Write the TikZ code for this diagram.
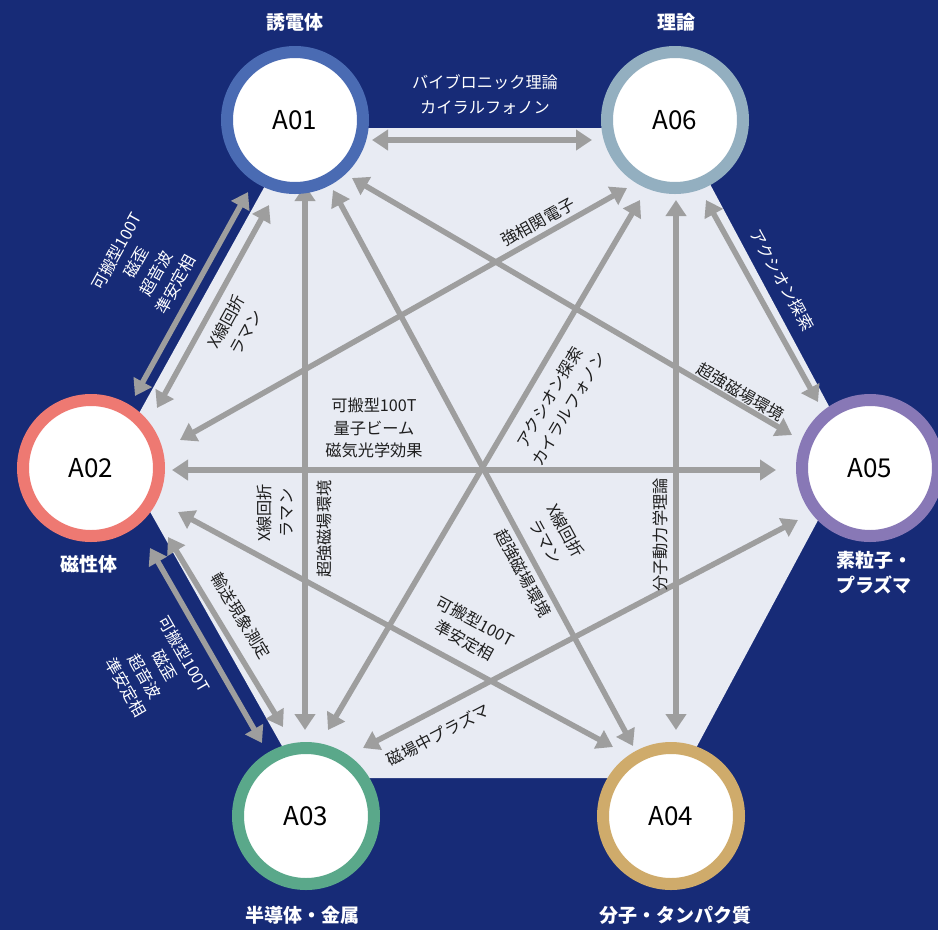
\documentclass[tikz,border=0pt]{standalone}
\usepackage{fontspec}
\setmainfont{Noto Sans CJK JP}
\usetikzlibrary{arrows.meta}
\definecolor{navy}{HTML}{172B77}
\definecolor{hexfill}{HTML}{E8EBF3}
\definecolor{agray}{HTML}{9E9E9E}
\definecolor{cAa}{HTML}{4A6BB3}
\definecolor{cAf}{HTML}{93AFC0}
\definecolor{cAb}{HTML}{EE7972}
\definecolor{cAe}{HTML}{8878B6}
\definecolor{cAc}{HTML}{5AA88A}
\definecolor{cAd}{HTML}{CFAB6B}
\definecolor{ink}{HTML}{1E1E1E}
\begin{document}
\begin{tikzpicture}[x=1pt,y=-1pt,
  conn/.style={draw=agray, line width=5.5pt, {Triangle[length=16pt,width=20pt]}-{Triangle[length=16pt,width=20pt]}},
  lab/.style={text=ink, font=\fontsize{16.2}{22.5}\selectfont, align=center, inner sep=0pt},
  wlab/.style={lab, text=white},
  grp/.style={circle, fill=white, line width=12pt, minimum size=136pt, inner sep=0pt, text=black, font=\fontsize{26}{30}\selectfont},
  ttl/.style={text=white, font=\fontsize{19}{25}\selectfont\bfseries, align=center, inner sep=0pt}
]
\useasboundingbox (0,0) rectangle (938,930);
\clip (0,0) rectangle (938,930);
\fill[navy] (0,0) rectangle (938,930);
\fill[hexfill] (297,128) -- (680,128) -- (854,453) -- (680,778) -- (300,778) -- (117,453) -- cycle;

% endpoints
\coordinate (p1s) at (372,140);  \coordinate (p1e) at (592,140);
\coordinate (p2s) at (248,192);  \coordinate (p2e) at (135,396);
\coordinate (p3s) at (269,205);  \coordinate (p3e) at (157,408);
\coordinate (p4s) at (305,185);  \coordinate (p4e) at (305,730);
\coordinate (p5s) at (333,190);  \coordinate (p5e) at (633,746);
\coordinate (p6s) at (352,178);  \coordinate (p6e) at (792,435);
\coordinate (p7s) at (180,440);  \coordinate (p7e) at (627,188);
\coordinate (p8s) at (172,470);  \coordinate (p8e) at (776,470);
\coordinate (p9s) at (178,512);  \coordinate (p9e) at (613,747);
\coordinate (p10s) at (168,537); \coordinate (p10e) at (283,727);
\coordinate (p11s) at (150,548); \coordinate (p11e) at (262,743);
\coordinate (p12s) at (640,200); \coordinate (p12e) at (328,730);
\coordinate (p13s) at (676,200); \coordinate (p13e) at (676,730);
\coordinate (p14s) at (706,200); \coordinate (p14e) at (818,402);
\coordinate (p15s) at (798,520); \coordinate (p15e) at (363,748);

\foreach \i in {1,...,15} { \draw[conn] (p\i s) -- (p\i e); }

% circles
\node[grp, draw=cAa] (A01) at (295,120) {A01};
\node[grp, draw=cAf] (A06) at (675,120) {A06};
\node[grp, draw=cAb] (A02) at (91,468) {A02};
\node[grp, draw=cAe] (A05) at (870,468) {A05};
\node[grp, draw=cAc] (A03) at (306,816) {A03};
\node[grp, draw=cAd] (A04) at (671,816) {A04};

% titles
\node[ttl] (t01) at (295,22) {誘電体};
\node[ttl] (t06) at (676,22) {理論};
\node[ttl] (t02) at (89,564) {磁性体};
\node[ttl] (t05) at (874,573) {素粒子・\\プラズマ};
\node[ttl] (t03) at (302,915) {半導体・金属};
\node[ttl] (t04) at (675,915) {分子・タンパク質};

% labels
\node[wlab, font=\fontsize{16.2}{25}\selectfont] (l1) at (485,95) {バイブロニック理論\\カイラルフォノン};
\node[wlab, rotate=61] (l2) at (146,268) {可搬型100T\\磁歪\\超音波\\準安定相};
\node[lab, rotate=61] (l3) at (236,327) {X線回折\\ラマン};
\node[lab, rotate=90] (l4) at (275,513) {X線回折\\ラマン};
\node[lab, rotate=90] (l5) at (324,529) {超強磁場環境};
\node[lab] (l6) at (374,428) {可搬型100T\\量子ビーム\\磁気光学効果};
\node[lab, rotate=29] (l7) at (538,222) {強相関電子};
\node[lab, rotate=59.5] (l8) at (559,403) {アクシオン探索\\カイラルフォノン};
\node[lab, rotate=-61.6] (l9) at (556,536) {X線回折\\ラマン};
\node[lab, rotate=-61.6] (l10) at (523,573) {超強磁場環境};
\node[lab, rotate=90] (l11) at (660,535) {分子動力学理論};
\node[lab, rotate=-30.3] (l12) at (741,392) {超強磁場環境};
\node[wlab, rotate=-61] (l13) at (782,280) {アクシオン探索};
\node[lab, rotate=-28.4] (l14) at (470,631) {可搬型100T\\準安定相};
\node[lab, rotate=-58.8] (l15) at (241,616) {輸送現象測定};
\node[wlab, rotate=-60.1] (l16) at (155,671) {可搬型100T\\磁歪\\超音波\\準安定相};
\node[lab, rotate=27.5] (l17) at (438,735) {磁場中プラズマ};
\end{tikzpicture}
\end{document}
